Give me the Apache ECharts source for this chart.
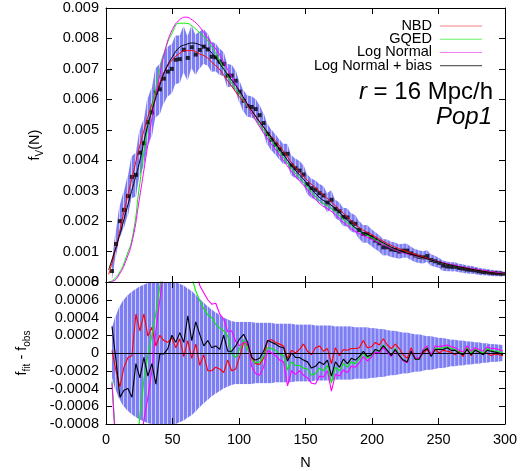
<!DOCTYPE html>
<html><head><meta charset="utf-8">
<script src="https://cdn.jsdelivr.net/npm/echarts@6/dist/echarts.min.js"></script>
<style>html,body{margin:0;padding:0;background:#fff}#c{width:532px;height:471px}</style>
</head><body><div id="c"></div>
<script>
// ---- data ----
const N = [4.5,7.5,10.5,13.5,16.5,19.5,22.5,25.5,28.5,31.5,
34.5,37.5,40.5,43.5,46.5,49.5,52.5,55.5,58.5,61.5,
64.5,67.5,70.5,73.5,76.5,79.5,82.5,85.5,88.5,91.5,
94.5,97.5,100.5,103.5,106.5,109.5,112.5,115.5,118.5,121.5,
124.5,127.5,130.5,133.5,136.5,139.5,142.5,145.5,148.5,151.5,
154.5,157.5,160.5,163.5,166.5,169.5,172.5,175.5,178.5,181.5,
184.5,187.5,190.5,193.5,196.5,199.5,202.5,205.5,208.5,211.5,
214.5,217.5,220.5,223.5,226.5,229.5,232.5,235.5,238.5,241.5,
244.5,247.5,250.5,253.5,256.5,259.5,262.5,265.5,268.5,271.5,
274.5,277.5,280.5,283.5,286.5,289.5,292.5,295.5,298.5];

const obs = [0.00036,0.00125,0.00200,0.00237,0.00282,0.00345,0.00352,0.00425,0.00456,0.00525,
0.00557,0.00622,0.00633,0.00668,0.00691,0.00700,0.00730,0.00732,0.00763,0.00736,
0.00771,0.00747,0.00762,0.00773,0.00764,0.00740,0.00738,0.00724,0.00716,0.00678,
0.00678,0.00661,0.00625,0.00595,0.00578,0.00575,0.00568,0.00548,0.00522,0.00486,
0.00467,0.00452,0.00436,0.00421,0.00421,0.00383,0.00374,0.00366,0.00353,0.00321,
0.00308,0.00303,0.00292,0.00284,0.00261,0.00270,0.00240,0.00232,0.00214,0.00212,
0.00196,0.00191,0.00171,0.00158,0.00158,0.00147,0.00136,0.00127,0.00114,0.00114,
0.00107,0.00105,0.00100,0.00103,0.00103,0.00094,0.00087,0.00083,0.00081,0.00085,
0.00072,0.00068,0.00063,0.00054,0.00051,0.00050,0.00050,0.00046,0.00044,0.00041,
0.00040,0.00038,0.00035,0.00033,0.00032,0.00030,0.00029,0.00028,0.00027];

// error (sigma), in units of 1e-4
const sigma = [2.8,4.2,5.3,6.0,6.5,6.9,7.2,7.5,7.7,7.9,
8.0,8.1,8.2,8.2,8.2,8.1,8.0,7.8,7.6,7.3,
7.0,6.6,6.1,5.7,5.3,4.9,4.6,4.3,4.0,3.8,
3.6,3.5,3.5,3.5,3.5,3.5,3.4,3.4,3.4,3.4,
3.4,3.3,3.3,3.3,3.3,3.3,3.2,3.2,3.2,3.2,
3.2,3.1,3.1,3.1,3.1,3.1,3.0,3.0,3.0,3.0,
3.0,2.9,2.9,2.9,2.9,2.8,2.8,2.7,2.7,2.6,
2.5,2.5,2.4,2.3,2.3,2.2,2.1,2.1,2.0,1.9,
1.9,1.8,1.7,1.7,1.6,1.5,1.5,1.4,1.4,1.3,
1.3,1.2,1.2,1.1,1.1,1.0,1.0,0.95,0.9];

// residuals f_fit - f_obs, in units of 1e-4
const resNBD = [0.3,-2.0,-3.8,-1.6,-0.5,-0.3,4.4,2.5,4.4,1.9,
2.9,0.8,2.0,1.4,1.2,1.7,0.6,1.6,-0.4,1.4,
-0.6,1.0,-1.4,-0.2,-2.0,-2.0,-1.6,-1.8,-2.2,-0.8,
-2.0,-1.8,-0.4,1.2,0.9,-0.4,-1.2,-1.3,-0.6,1.4,
1.5,1.2,1.0,0.8,-0.6,0.3,0.0,0.4,1.0,0.2,
-0.2,0.6,0.8,0.2,0.5,-1.2,0.6,-0.3,0.4,0.3,
0.5,0.5,0.6,1.4,0.6,0.7,1.2,0.9,1.6,0.9,
0.5,1.0,0.5,-0.2,-0.6,0.6,-0.6,-0.6,0.0,0.4,
-0.2,0.4,0.0,0.3,0.2,0.1,-0.2,0.2,-0.4,0.5,
-0.3,0.4,0.1,-0.1,0.0,-0.3,-0.1,-0.2,-0.3];

const resGQED = [-3.2,-10.5,-17,-17,-18,-20,-12,-7.0,-3.0,-0.2,
2.0,4.5,7.5,10,11,13,12,12,11,12,
8.5,7.0,5.9,5.0,4.3,4.0,3.2,2.8,2.5,1.9,
-0.1,-0.5,0.5,1.5,0.4,-0.8,-1.1,-1.0,-0.4,0.6,
0.5,0.3,-0.1,-0.3,-1.9,-1.0,-1.4,-1.4,-1.7,-1.8,
-2.5,-2.3,-1.7,-2.0,-1.4,-3.4,-1.6,-2.0,-1.2,-1.6,
-1.0,-1.2,-0.7,0.0,-0.6,-0.3,0.4,0.2,0.9,0.3,
-0.2,0.5,-0.2,-0.8,-1.0,0.3,-0.7,-0.7,0.3,0.7,
-0.3,0.6,0.5,0.6,0.7,0.5,0.4,0.1,-0.1,0.6,
0.0,0.4,0.2,0.0,0.5,0.3,0.2,0.2,0.0];

const resLN = [-3.4,-11,-17.5,-18,-19,-22,-18,-11,-7.5,-5.0,
-2.0,2.5,6.0,9.5,11,13,13,13,13,14,
10.5,9.5,7.6,6.8,6.0,5.5,5.6,4.4,3.8,2.4,
2.5,1.3,0.8,1.2,1.2,-1.5,-2.3,-2.5,-1.6,0.3,
0.0,-0.3,-0.8,-1.0,-3.7,-2.0,-2.4,-2.0,-2.5,-2.8,
-3.4,-3.5,-2.6,-2.7,-2.0,-4.3,-2.4,-2.6,-1.9,-2.2,
-1.5,-1.6,-1.1,-0.4,-0.9,-0.5,0.1,0.0,0.6,0.1,
-0.4,0.3,-0.3,-0.9,-1.1,0.3,-0.6,-0.6,0.4,0.8,
-0.2,0.8,0.7,0.8,0.9,0.7,0.6,0.3,0.1,0.8,
0.2,0.6,0.4,0.2,0.7,0.5,0.5,0.4,0.2];

const resLNB = [3.0,-0.8,-5.0,-4.2,-4.0,-5.0,-1.2,-2.8,-0.5,-2.6,
-1.2,-3.5,-0.1,-0.1,0.5,2.0,1.2,2.3,1.2,4.2,
1.4,3.5,2.1,0.8,1.4,0.6,0.8,0.4,2.0,0.2,
0.2,0.8,1.6,2.1,1.2,-0.5,-0.8,-0.6,0.2,1.4,
1.2,1.0,0.7,0.6,-0.9,0.0,-0.5,-0.5,-0.8,-1.0,
-1.7,-1.5,-1.0,-1.3,-0.8,-2.6,-1.0,-1.6,-0.7,-1.2,
-0.6,-0.8,-0.4,0.2,-0.4,-0.2,0.4,0.2,0.8,0.3,
-0.3,0.4,-0.3,-0.8,-1.0,0.2,-0.7,-0.7,0.2,0.5,
-0.4,0.4,0.4,0.4,0.6,0.3,0.3,0.0,-0.2,0.4,
-0.2,0.3,0.1,-0.2,0.3,0.2,0.1,0.0,-0.2];

// smooth model curves (top panel)
const fitN = [2,5,10,15,20,25,30,35,40,45,50,55,60,65,70,75,80,85,90,95,100,
110,120,130,140,150,160,170,180,190,200,210,220,230,240,250,260,270,280,290,300];
const fitNBD = [0.00025,0.0007,0.0016,0.0026,0.0035,0.0044,0.0052,0.0059,0.0065,0.0070,0.0073,0.0075,0.0076,0.0076,0.0075,0.0074,0.0072,0.0070,0.0067,0.0064,0.0061,
0.0056,0.0050,0.0045,0.0039,0.0034,0.0030,0.0026,0.0022,0.0018,0.00155,0.0013,0.0011,0.00095,0.0008,0.00066,0.00055,0.00046,0.00038,0.00031,0.00026];
const fitGQED = [0.00001,0.00005,0.0003,0.0008,0.0015,0.0031,0.0047,0.0058,0.0069,0.0077,0.0082,0.0085,0.0085,0.0084,0.0082,0.0080,0.0077,0.0073,0.0069,0.0065,0.0062,
0.0055,0.0049,0.0043,0.0037,0.0032,0.0027,0.0024,0.0020,0.0017,0.00145,0.00122,0.00102,0.00088,0.00076,0.00066,0.00055,0.00047,0.0004,0.00033,0.00027];
const fitLN = [0.0,0.00002,0.00025,0.0007,0.0014,0.0027,0.0041,0.0055,0.0067,0.0077,0.0083,0.0086,0.0087,0.0086,0.0084,0.0081,0.0078,0.0075,0.0071,0.0067,0.0063,
0.0055,0.0048,0.0042,0.0036,0.0031,0.0026,0.0023,0.0019,0.0016,0.0014,0.0012,0.00101,0.00088,0.00077,0.00067,0.00057,0.00048,0.00041,0.00034,0.00028];
const fitLNB = [0.0004,0.0008,0.0015,0.0023,0.0031,0.0039,0.0049,0.0057,0.0064,0.0070,0.0074,0.0077,0.0078,0.00785,0.0078,0.0077,0.0075,0.0072,0.0069,0.0066,0.0063,
0.0056,0.0050,0.0044,0.0038,0.0033,0.0028,0.0025,0.0021,0.0017,0.0015,0.00125,0.00104,0.0009,0.00078,0.00066,0.00055,0.00046,0.00038,0.00031,0.00026];

const xTicks = [0,50,100,150,200,250,300];
const seriesNames = ['NBD','GQED','Log Normal','Log Normal + bias'];
const seriesColors = ['#ff0000','#00ee00','#ff00ff','#000000'];
const legendColors = ['#f08080','#66f066','#f080f0','#606060'];

// ---- build ----
const UNIT = 1e-4;
const FONT = "'Liberation Sans', Arial, Helvetica, sans-serif";
const BAND = '#7e7ef4';
const sig = sigma.map(s => s * UNIT);
const pairs = (xs, ys, f) => xs.map((x, i) => [x, ys[i] * (f || 1)]);

// band segments: [x0, lo0, hi0, x1, lo1, hi1]
function bandSegments(center) {
  const out = [];
  for (let i = 0; i < N.length - 1; i++) {
    const c0 = center ? center[i] : 0, c1 = center ? center[i + 1] : 0;
    out.push([N[i], c0 - sig[i], c0 + sig[i], N[i + 1], c1 - sig[i + 1], c1 + sig[i + 1]]);
  }
  return out;
}
function bandItem(params, api) {
  const a = api.coord([api.value(0), api.value(1)]);
  const b = api.coord([api.value(0), api.value(2)]);
  const c = api.coord([api.value(3), api.value(5)]);
  const d = api.coord([api.value(3), api.value(4)]);
  const gap = 0.6; // thin light seam between segments
  c[0] -= gap; d[0] -= gap;
  const cs = params.coordSys;
  const pts = echarts.graphic.clipPointsByRect([a, b, c, d], { x: cs.x, y: cs.y, width: cs.width, height: cs.height });
  return { type: 'polygon', shape: { points: pts }, style: { fill: BAND }, silent: true };
}

function xAx(grid, pos, labels, name) {
  return {
    type: 'value', gridIndex: grid, position: pos, min: xTicks[0], max: xTicks[xTicks.length - 1],
    interval: xTicks[1] - xTicks[0],
    name: name || '', nameLocation: 'middle', nameGap: 31,
    nameTextStyle: { fontSize: 14.5, fontFamily: FONT, color: '#000' },
    axisLine: { show: true, onZero: false, lineStyle: { color: '#000', width: 1 } },
    axisTick: { show: true, inside: true, length: 6, lineStyle: { color: '#000', width: 1 } },
    axisLabel: { show: labels, color: '#000', fontSize: 14.5, fontFamily: FONT, margin: 8 },
    splitLine: { show: false }, z: 10
  };
}
function yAx(grid, pos, labels, min, max, step, dec) {
  return {
    type: 'value', gridIndex: grid, position: pos, min: min, max: max, interval: step,
    axisLine: { show: true, onZero: false, lineStyle: { color: '#000', width: 1 } },
    axisTick: { show: true, inside: true, length: 6, lineStyle: { color: '#000', width: 1 } },
    axisLabel: { show: labels, color: '#000', fontSize: 14.5, fontFamily: FONT, margin: 7,
      formatter: v => Math.abs(v) < 1e-12 ? '0' : v.toFixed(dec) },
    splitLine: { show: false }, z: 10
  };
}

const lineBase = { type: 'line', symbol: 'none', silent: true, emphasis: { disabled: true }, animation: false };

const series = [
  { type: 'custom', xAxisIndex: 0, yAxisIndex: 0, data: bandSegments(obs), renderItem: bandItem,
    encode: { x: 0, y: 1 }, silent: true, animation: false, z: 1 },
  { type: 'scatter', xAxisIndex: 0, yAxisIndex: 0, data: pairs(N, obs), symbol: 'rect', symbolSize: 4,
    itemStyle: { color: '#000' }, silent: true, animation: false, z: 2 }
];
[fitNBD, fitGQED, fitLN, fitLNB].forEach((f, k) => {
  series.push(Object.assign({}, lineBase, { name: seriesNames[k], xAxisIndex: 0, yAxisIndex: 0,
    data: pairs(fitN, f), smooth: 0.5, lineStyle: { color: seriesColors[k], width: 1 },
    itemStyle: { color: seriesColors[k] }, z: 3 + k }));
});
// bottom panel band (+/- sigma) and zero line
series.push({ type: 'custom', xAxisIndex: 2, yAxisIndex: 2, data: bandSegments(null), renderItem: bandItem,
  encode: { x: 0, y: 1 }, silent: true, animation: false, z: 1 });
series.push(Object.assign({}, lineBase, { xAxisIndex: 2, yAxisIndex: 2, data: pairs(N, sigma, 0),
  lineStyle: { width: 0, opacity: 0 }, z: 2,
  markLine: { silent: true, symbol: ['none', 'none'], label: { show: false }, animation: false,
    lineStyle: { color: '#000', width: 1, type: 'solid' }, data: [{ yAxis: 0 }] } }));
[resNBD, resGQED, resLN, resLNB].forEach((r, k) => {
  series.push(Object.assign({}, lineBase, { name: seriesNames[k] + ' residual', xAxisIndex: 2, yAxisIndex: 2,
    data: pairs(N, r, UNIT), lineStyle: { color: seriesColors[k], width: 1.1 }, z: 3 + k }));
});

const chart = echarts.init(document.getElementById('c'), null, { renderer: 'canvas' });
chart.setOption({
  animation: false,
  backgroundColor: '#fff',
  textStyle: { fontFamily: FONT },
  grid: [
    { left: 106, right: 27, top: 8, height: 274 },
    { left: 106, right: 27, top: 282, height: 142 }
  ],
  xAxis: [xAx(0, 'bottom', false), xAx(0, 'top', false), xAx(1, 'bottom', true, 'N'), xAx(1, 'top', false)],
  yAxis: [yAx(0, 'left', true, 0, 0.009, 0.001, 3), yAx(0, 'right', false, 0, 0.009, 0.001, 3),
          yAx(1, 'left', true, -0.0008, 0.0008, 0.0002, 4), yAx(1, 'right', false, -0.0008, 0.0008, 0.0002, 4)],
  legend: {
    data: seriesNames.map((n, k) => ({ name: n, itemStyle: { color: legendColors[k] } })),
    orient: 'vertical', right: 45, top: 13.5, align: 'right',
    icon: 'path://M0 0H40V1H0Z',
    itemWidth: 42, itemHeight: 1.2, itemGap: -1.8, selectedMode: false, z: 20,
    textStyle: { fontSize: 14.5, fontFamily: FONT, color: '#000', padding: [0, 3, 0, 0] }
  },
  graphic: [
    { type: 'text', x: 35, y: 145, rotation: Math.PI / 2, silent: true, z: 100,
      style: { text: '{a|f}{b|V}{a|(N)}', align: 'center', verticalAlign: 'middle',
        rich: { a: { fontSize: 14.5, fontFamily: FONT, fill: '#000', lineHeight: 20, verticalAlign: 'middle' },
                b: { fontSize: 10, fontFamily: FONT, fill: '#000', verticalAlign: 'bottom' } } } },
    { type: 'text', x: 22, y: 353, rotation: Math.PI / 2, silent: true, z: 100,
      style: { text: '{a|f}{b|fit}{a| - f}{b|obs}', align: 'center', verticalAlign: 'middle',
        rich: { a: { fontSize: 14.5, fontFamily: FONT, fill: '#000', lineHeight: 20, verticalAlign: 'middle' },
                b: { fontSize: 10, fontFamily: FONT, fill: '#000', verticalAlign: 'bottom' } } } },
    { type: 'text', x: 493, y: 92, silent: true, z: 100,
      style: { text: '{i|r}{n| = 16 Mpc/h}', align: 'right', verticalAlign: 'middle',
        rich: { i: { fontSize: 24, fontStyle: 'italic', fontFamily: FONT, fill: '#000' },
                n: { fontSize: 24, fontFamily: FONT, fill: '#000' } } } },
    { type: 'text', x: 492, y: 117, silent: true, z: 100,
      style: { text: 'Pop1', align: 'right', verticalAlign: 'middle', fontSize: 24, fontStyle: 'italic',
        fontFamily: FONT, fill: '#000' } }
  ],
  series: series
});
</script>
</body></html>
